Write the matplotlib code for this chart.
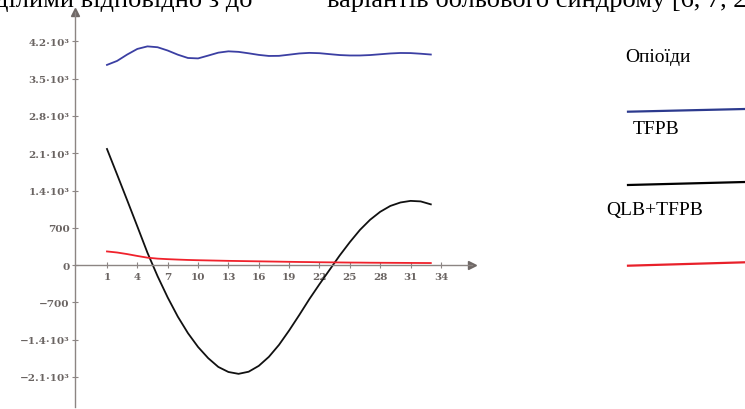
import numpy as np
import matplotlib
matplotlib.use("Agg")
import matplotlib.pyplot as plt
from matplotlib.lines import Line2D
import matplotlib.transforms as mtransforms

# Dati (valori per t = 1..33)
t = np.arange(1, 34)

tfpb = [3760, 3835, 3955, 4060, 4108, 4092, 4030, 3952, 3890, 3882,
        3935, 3990, 4015, 4005, 3978, 3948, 3928, 3930, 3952, 3975,
        3986, 3980, 3962, 3945, 3937, 3937, 3945, 3960, 3975, 3984,
        3982, 3970, 3955]

qlb_tfpb = [2180, 1700, 1215, 725, 230, -210, -610, -970, -1280, -1540,
            -1750, -1915, -2010, -2045, -2005, -1895, -1725, -1500, -1230, -940,
            -640, -360, -90, 180, 430, 660, 850, 1000, 1110, 1175,
            1205, 1195, 1140]

opioidi = [255, 235, 205, 170, 138, 120, 110, 102, 95, 90,
           86, 82, 78, 75, 72, 69, 66, 63, 60, 57,
           55, 52, 50, 48, 46, 45, 43, 42, 41, 40,
           39, 38, 37]

x_ticks = list(range(1, 35, 3))
y_ticks = [-2100, -1400, -700, 0, 700, 1400, 2100, 2800, 3500, 4200]
y_labels = ["\u22122.1\u00b710\u00b3", "\u22121.4\u00b710\u00b3", "\u2212700", "0", "700",
            "1.4\u00b710\u00b3", "2.1\u00b710\u00b3", "2.8\u00b710\u00b3",
            "3.5\u00b710\u00b3", "4.2\u00b710\u00b3"]

legend_labels = ["\u041e\u043f\u0456\u043e\u0457\u0434\u0438", "TFPB", "QLB+TFPB"]

W, H = 745, 410
fig = plt.figure(figsize=(W / 100, H / 100), dpi=100)
fig.patch.set_facecolor("white")

axis_col = "#8c8583"
lab_col = "#6a6462"
serif = ["Liberation Serif", "DejaVu Serif"]

# Area del grafico in pixel (sinistra 75, destra 472, alto 13, basso 408)
ax = fig.add_axes([75 / W, 1 - 408 / H, (472 - 75) / W, (408 - 13) / H])
ax.set_xlim(-2.16, 37.07)
ax.set_ylim(-2668, 4754)
ax.patch.set_alpha(0)

ax.plot(t, tfpb, color="#3b3fa3", lw=1.3, solid_joinstyle="round")
ax.plot(t, qlb_tfpb, color="#111111", lw=1.3, solid_joinstyle="round")
ax.plot(t, opioidi, color="#f0222c", lw=1.3, solid_joinstyle="round")

# Assi con frecce
for s in ["top", "right"]:
    ax.spines[s].set_visible(False)
ax.spines["bottom"].set_position(("data", 0))
ax.spines["left"].set_color(axis_col)
ax.spines["bottom"].set_color(axis_col)
ax.spines["left"].set_linewidth(1.0)
ax.spines["bottom"].set_linewidth(1.0)
ax.plot(0, 1, marker="^", color="#6f6866", ms=6, transform=ax.transAxes, clip_on=False)
ax.plot(1, 0, marker=">", color="#6f6866", ms=6,
        transform=mtransforms.blended_transform_factory(ax.transAxes, ax.transData), clip_on=False)

ax.set_xticks(x_ticks)
ax.set_xticklabels([str(v) for v in x_ticks])
ax.set_yticks(y_ticks)
ax.set_yticklabels(y_labels)
ax.tick_params(axis="both", direction="inout", length=4, width=0.8, color=axis_col,
               labelcolor=lab_col, labelsize=7.5)
ax.tick_params(axis="x", pad=3)
ax.tick_params(axis="y", pad=2)
for lab in ax.get_xticklabels() + ax.get_yticklabels():
    lab.set_fontfamily(["DejaVu Serif"])
    lab.set_fontweight("bold")

# Legenda a destra (testo + linee)
fig.text(625 / W, 1 - 58 / H, legend_labels[0], family=serif, fontsize=14, va="center", ha="left")
fig.text(633 / W, 1 - 130 / H, legend_labels[1], family=serif, fontsize=14, va="center", ha="left")
fig.text(606 / W, 1 - 211 / H, legend_labels[2], family=serif, fontsize=14, va="center", ha="left")
for y0, y1, c in [(112.7, 110, "#2c3a8e"), (186, 183, "#000000"), (266.7, 263.3, "#e8202a")]:
    fig.add_artist(Line2D([628 / W, 1.0], [1 - y0 / H, 1 - y1 / H], color=c, lw=1.6,
                          transform=fig.transFigure))

# Testo tagliato in alto (riga del documento)
fig.text(252 / W, 1 - 7 / H, "\u0434\u0456\u043b\u0438\u043c\u0438 \u0432\u0456\u0434\u043f\u043e\u0432\u0456\u0434\u043d\u043e \u0437 \u0434\u043e",
         family=serif, fontsize=19, ha="right", va="baseline")
fig.text(327 / W, 1 - 7 / H, "\u0432\u0430\u0440\u0456\u0430\u043d\u0442\u0456\u0432 \u0431\u043e\u043b\u044c\u043e\u0432\u043e\u0433\u043e \u0441\u0438\u043d\u0434\u0440\u043e\u043c\u0443 [6, 7, 2",
         family=serif, fontsize=19, ha="left", va="baseline")

fig.savefig("out.png", dpi=100)
